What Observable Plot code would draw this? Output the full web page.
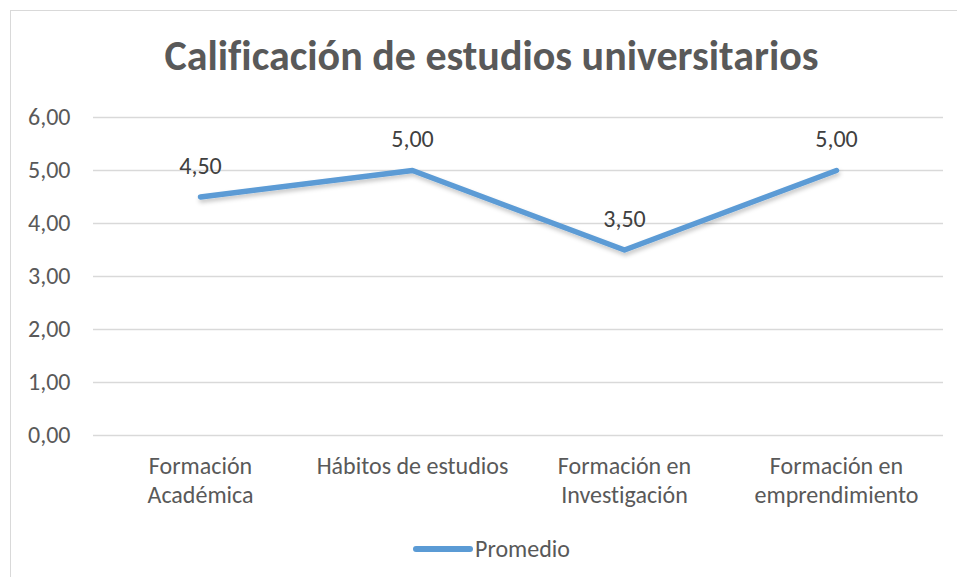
<!DOCTYPE html>
<html>
<head>
<meta charset="utf-8">
<script src="https://cdn.jsdelivr.net/npm/d3@7"></script>
<script src="https://cdn.jsdelivr.net/npm/@observablehq/plot@0.6"></script>
<style>
  html, body { margin: 0; padding: 0; background: #fff; }
  #wrap { position: relative; width: 957px; height: 577px; overflow: hidden; font-family: Carlito, "Open Sans", sans-serif; font-variant-ligatures: none; }
  #box { position: absolute; left: 10px; top: 10px; width: 980px; height: 600px; border: 1.5px solid #D9D9D9; box-sizing: border-box; }
  #chart { position: absolute; left: 0; top: 0; }
  #chart svg text { font-variant-ligatures: none; }
  #legend { position: absolute; top: 535px; left: 0; width: 983px; height: 28px; display: flex; justify-content: center; align-items: center; color: #595959; font-size: 24px; line-height: 28px; }
  #legend .sw { display: inline-block; width: 60px; height: 6px; border-radius: 3px; background: #5B9BD5; margin-right: 2px; }
</style>
</head>
<body>
<div id="wrap">
  <div id="box"></div>
  <div id="chart"></div>
  <div id="legend"><span class="sw"></span><span id="legtext"></span></div>
</div>
<script>
const title = "Calificación de estudios universitarios";
const seriesName = "Promedio";
const categories = ["Formación Académica", "Hábitos de estudios", "Formación en Investigación", "Formación en emprendimiento"];
const categoryLabels = ["Formación\nAcadémica", "Hábitos de estudios", "Formación en\nInvestigación", "Formación en\nemprendimiento"];
const values = [4.5, 5.0, 3.5, 5.0];
const yTicks = [0, 1, 2, 3, 4, 5, 6];

const fmt = d => d.toFixed(2).replace(".", ",");
const data = categories.map((c, i) => ({category: c, value: values[i]}));
const labelOf = new Map(categories.map((c, i) => [c, categoryLabels[i]]));
const font = 'Carlito, "Open Sans", sans-serif';

document.getElementById("legtext").textContent = seriesName;

const chart = Plot.plot({
  width: 957,
  height: 577,
  marginLeft: 93,
  marginRight: 14,
  marginTop: 117,
  marginBottom: 142,
  style: {fontFamily: font, background: "transparent"},
  x: {type: "point", domain: categories, padding: 0.5},
  y: {domain: [0, 6]},
  marks: [
    Plot.ruleY(yTicks, {stroke: "#D9D9D9", strokeWidth: 1.5}),
    Plot.axisY({ticks: yTicks, tickSize: 0, tickPadding: 23, tickFormat: fmt, fontSize: 24, fill: "#595959", label: null}),
    Plot.axisX({tickSize: 0, tickPadding: 19, tickFormat: d => labelOf.get(d), fontSize: 24, fill: "#595959", lineHeight: 1.17, label: null}),
    Plot.line(data, {x: "category", y: "value", stroke: "#5B9BD5", strokeWidth: 5.5, strokeLinecap: "round", strokeLinejoin: "round", className: "series-line"}),
    Plot.text(data, {x: "category", y: "value", text: d => fmt(d.value), dy: -31, fontSize: 24, fill: "#404040"}),
    Plot.text([title], {frameAnchor: "top", lineAnchor: "bottom", dx: -27, dy: -48, fontSize: 42, fontWeight: "bold", fill: "#595959"})
  ]
});

// drop shadow for the series line
const svg = d3.select(chart);
const defs = svg.insert("defs", ":first-child");
const f = defs.append("filter").attr("id", "shadow").attr("x", "-10%").attr("y", "-20%").attr("width", "120%").attr("height", "160%");
f.append("feDropShadow").attr("dx", 1).attr("dy", 3).attr("stdDeviation", 2).attr("flood-color", "#000").attr("flood-opacity", 0.22);
svg.selectAll(".series-line path").attr("filter", "url(#shadow)");

document.getElementById("chart").appendChild(chart);
</script>
</body>
</html>
